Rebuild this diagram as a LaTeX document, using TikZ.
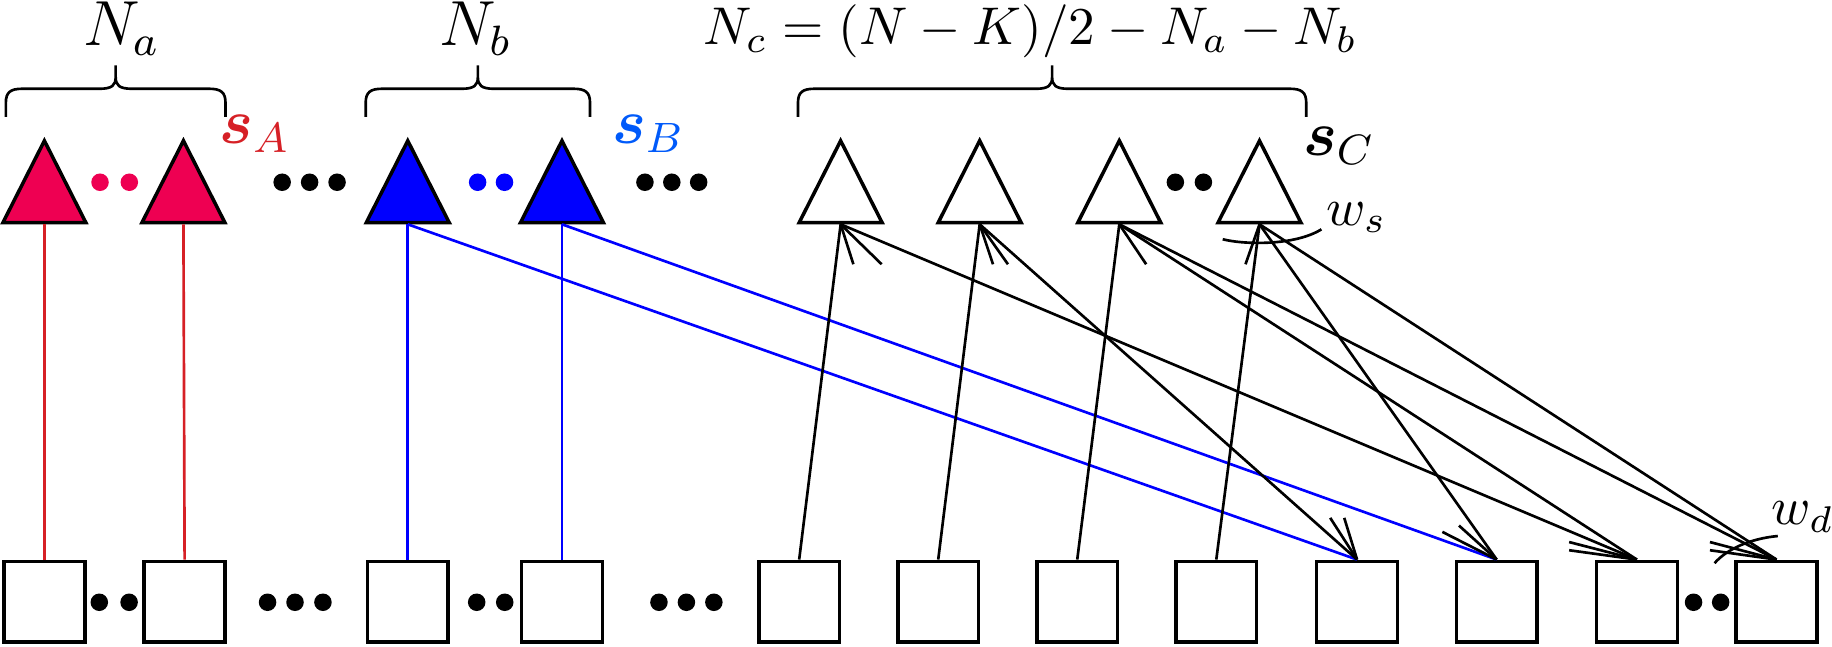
\documentclass[tikz,border=0pt]{standalone}
\usepackage{amsmath}
\usetikzlibrary{shapes.geometric}

\definecolor{trired}{RGB}{238,0,82}
\definecolor{linered}{RGB}{214,32,38}
\definecolor{sblue}{RGB}{0,90,250}

\tikzset{
  tri/.style={isosceles triangle, isosceles triangle stretches, shape border rotate=90,
    minimum width=15.6pt, minimum height=15.4pt, inner sep=0pt, draw, line width=0.66pt, anchor=south},
  unit/.style={rectangle, draw, line width=0.66pt, minimum size=15.2pt, inner sep=0pt},
  link/.style={line width=0.5pt},
  brace/.style={line width=0.5pt},
}

\begin{document}
\begin{tikzpicture}[x=0.75pt,y=0.75pt,yscale=-0.2933,xscale=0.2933]
\useasboundingbox (0,0) rectangle (1568,553);

% top row
\node [tri, fill=trired] (a1) at (38,192) {};
\node [tri, fill=trired] (a2) at (157,192) {};
\node [tri, fill=blue] (b1) at (349,192) {};
\node [tri, fill=blue] (b2) at (481,192) {};
\node [tri, fill=white] (c1) at (719.5,192) {};
\node [tri, fill=white] (c2) at (838.5,192) {};
\node [tri, fill=white] (c3) at (958,192) {};
\node [tri, fill=white] (c4) at (1078,192) {};

% bottom row
\node [unit] (q1) at (38,515) {};
\node [unit] (q2) at (158,515) {};
\node [unit] (q3) at (349,515) {};
\node [unit] (q4) at (481,515) {};
\node [unit] (q5) at (684,515) {};
\node [unit] (q6) at (803,515) {};
\node [unit] (q7) at (922,515) {};
\node [unit] (q8) at (1041,515) {};
\node [unit] (q9) at (1161.5,515) {};
\node [unit] (q10) at (1281,515) {};
\node [unit] (q11) at (1401,515) {};
\node [unit] (q12) at (1520.5,515) {};

% links
\draw [color=linered, link] (a1.south) -- (q1.north);
\draw [color=linered, link] (a2.south) -- (q2.north);
\draw [color=blue, link] (b1.south) -- (q3.north);
\draw [color=blue, link] (b2.south) -- (q4.north);
\draw [color=blue, link] (b1.south) -- (q9.north);
\draw [color=blue, link] (b2.south) -- (q10.north);

\draw [link] (q5.north) -- (c1.south);
\draw [link] (q6.north) -- (c2.south);
\draw [link] (q7.north) -- (c3.south);
\draw [link] (q8.north) -- (c4.south);
\draw [link] (c1.south) -- (q11.north);
\draw [link] (c2.south) -- (q9.north);
\draw [link] (c3.south) -- (q11.north);
\draw [link] (c3.south) -- (q12.north);
\draw [link] (c4.south) -- (q10.north);
\draw [link] (c4.south) -- (q12.north);

% barbs
\draw [link] (c1.south) -- ++(10.9,34.2);
\draw [link] (c1.south) -- ++(35.1,34.2);
\draw [link] (c2.south) -- ++(11.4,34.2);
\draw [link] (c2.south) -- ++(24.2,34.2);
\draw [link] (c3.south) -- ++(23,34.2);
\draw [link] (c4.south) -- ++(-12,34.2);
\draw [link] (q9.north) -- ++(-23,-35.7);
\draw [link] (q9.north) -- ++(-11,-35.7);
\draw [link] (q10.north) -- ++(-46.5,-23.7);
\draw [link] (q10.north) -- ++(-32.3,-29.1);
\draw [link] (q11.north) -- ++(-58,-15);
\draw [link] (q11.north) -- ++(-58,-8);
\draw [link] (q12.north) -- ++(-57,-15);
\draw [link] (q12.north) -- ++(-57,-8);

% weights
\draw [link] (1046.5,204.8) .. controls (1065,209.5) and (1108,210.5) .. (1131,196.3);
\draw [link] (1467.5,482) .. controls (1478,470) and (1498,461) .. (1521.6,458.8);

% dots
\fill [color=trired] (85.6,156) circle [radius=7.5];
\fill [color=trired] (110.7,156) circle [radius=7.5];
\fill (241.5,156) circle [radius=7.5];
\fill (265,156) circle [radius=7.5];
\fill (288.5,156) circle [radius=7.5];
\fill [color=blue] (408.8,156) circle [radius=7.5];
\fill [color=blue] (431.8,156) circle [radius=7.5];
\fill (552,156) circle [radius=7.5];
\fill (575,156) circle [radius=7.5];
\fill (598,156) circle [radius=7.5];
\fill (1006,156) circle [radius=7.5];
\fill (1030,156) circle [radius=7.5];

\fill (85,515.5) circle [radius=7.5];
\fill (110.5,515.5) circle [radius=7.5];
\fill (229,515.5) circle [radius=7.5];
\fill (252.5,515.5) circle [radius=7.5];
\fill (276.4,515.5) circle [radius=7.5];
\fill (408,515.5) circle [radius=7.5];
\fill (432,515.5) circle [radius=7.5];
\fill (564,515.5) circle [radius=7.5];
\fill (587.5,515.5) circle [radius=7.5];
\fill (611,515.5) circle [radius=7.5];
\fill (1449.5,515.5) circle [radius=7.5];
\fill (1472.7,515.5) circle [radius=7.5];

% braces
\draw [brace] (5,100) -- (5,88) .. controls (5,79) and (9,76) .. (19,76) -- (85,76) .. controls (96,76) and (99,73) .. (99,66) -- (99,56) -- (99,66) .. controls (99,73) and (102,76) .. (113,76) -- (179,76) .. controls (189,76) and (193,79) .. (193,88) -- (193,100);
\draw [brace] (313,100) -- (313,88) .. controls (313,79) and (317,76) .. (327,76) -- (395,76) .. controls (406,76) and (409,73) .. (409,66) -- (409,56) -- (409,66) .. controls (409,73) and (412,76) .. (423,76) -- (491,76) .. controls (501,76) and (505,79) .. (505,88) -- (505,100);
\draw [brace] (683,100) -- (683,88) .. controls (683,79) and (687,76) .. (697,76) -- (886.5,76) .. controls (897.5,76) and (900.5,73) .. (900.5,66) -- (900.5,56) -- (900.5,66) .. controls (900.5,73) and (903.5,76) .. (914.5,76) -- (1104,76) .. controls (1114,76) and (1118,79) .. (1118,88) -- (1118,100);

% labels
\node [anchor=base] (na) at (104,39) {\large $N_a$};
\node [anchor=base] (nb) at (407,39) {\large $N_b$};
\node [anchor=base] (nc) at (882,38.5) {$N_c=(N-K)/2-N_a-N_b$};
\node [anchor=base, color=linered] (sa) at (218,122.5) {\large $\boldsymbol{s}_A$};
\node [anchor=base, color=sblue] (sb) at (555,122.5) {\large $\boldsymbol{s}_B$};
\node [anchor=base] (sc) at (1146,133) {\large $\boldsymbol{s}_C$};
\node [anchor=base] (ws) at (1161,192.6) {$w_s$};
\node [anchor=base] (wd) at (1543,449.3) {$w_d$};
\end{tikzpicture}
\end{document}
